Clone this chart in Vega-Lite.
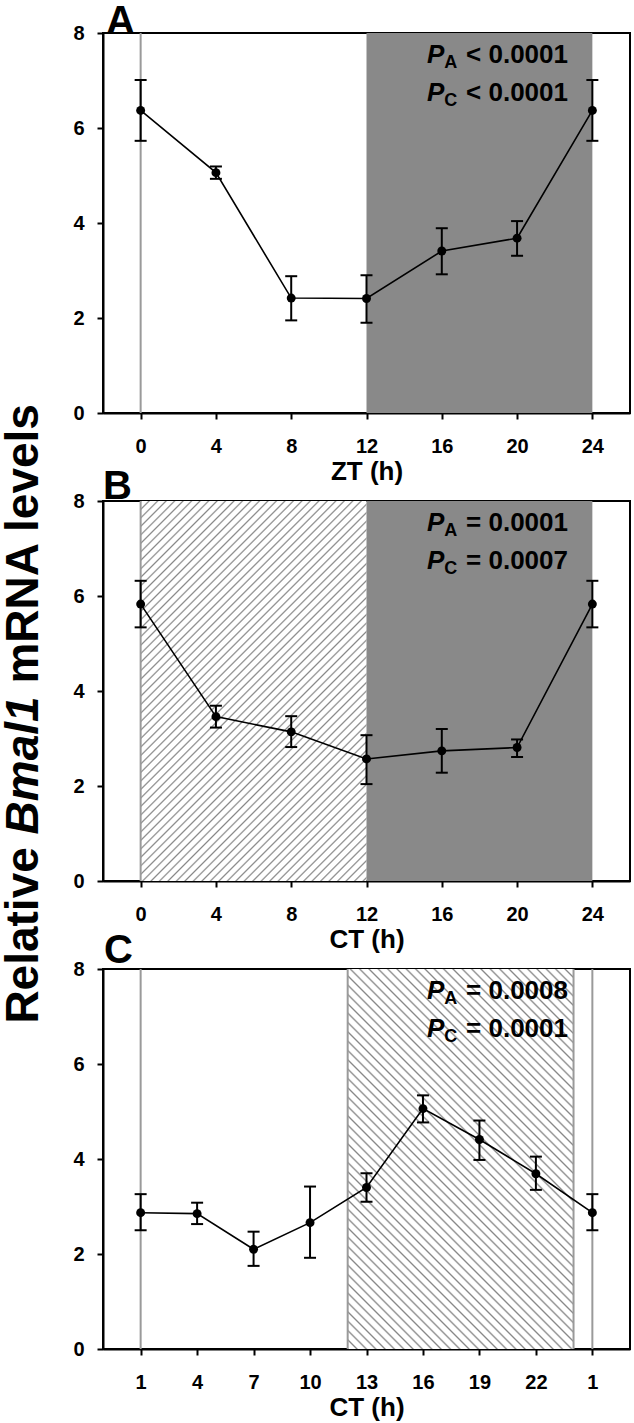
{
  "$schema": "https://vega.github.io/schema/vega-lite/v6.json",
  "background": "white",
  "padding": {"left": 0, "top": 0, "right": 2, "bottom": 2},
  "spacing": 88,
  "bounds": "flush",
  "resolve": {"scale": {"x": "independent", "y": "independent"}},
  "datasets": {
    "A": [
      {"t": 0, "y": 6.37, "lo": 5.73, "hi": 7.01},
      {"t": 4, "y": 5.06, "lo": 4.93, "hi": 5.19},
      {"t": 8, "y": 2.42, "lo": 1.95, "hi": 2.88},
      {"t": 12, "y": 2.41, "lo": 1.90, "hi": 2.90},
      {"t": 16, "y": 3.41, "lo": 2.92, "hi": 3.89},
      {"t": 20, "y": 3.68, "lo": 3.31, "hi": 4.04},
      {"t": 24, "y": 6.37, "lo": 5.73, "hi": 7.01}
    ],
    "B": [
      {"t": 0, "y": 5.83, "lo": 5.34, "hi": 6.32},
      {"t": 4, "y": 3.46, "lo": 3.23, "hi": 3.69},
      {"t": 8, "y": 3.14, "lo": 2.82, "hi": 3.47},
      {"t": 12, "y": 2.57, "lo": 2.04, "hi": 3.07},
      {"t": 16, "y": 2.74, "lo": 2.28, "hi": 3.20},
      {"t": 20, "y": 2.81, "lo": 2.61, "hi": 2.98},
      {"t": 24, "y": 5.83, "lo": 5.34, "hi": 6.32}
    ],
    "C": [
      {"t": 1, "y": 2.87, "lo": 2.50, "hi": 3.26},
      {"t": 4, "y": 2.85, "lo": 2.63, "hi": 3.08},
      {"t": 7, "y": 2.10, "lo": 1.75, "hi": 2.47},
      {"t": 10, "y": 2.66, "lo": 1.92, "hi": 3.42},
      {"t": 13, "y": 3.40, "lo": 3.10, "hi": 3.70},
      {"t": 16, "y": 5.06, "lo": 4.77, "hi": 5.34},
      {"t": 19, "y": 4.41, "lo": 3.98, "hi": 4.81},
      {"t": 22, "y": 3.69, "lo": 3.35, "hi": 4.05},
      {"t": 25, "y": 2.87, "lo": 2.50, "hi": 3.26}
    ]
  },
  "vconcat": [
    {
      "width": 527,
      "height": 380,
      "encoding": {"x": {"field": "t", "type": "quantitative", "scale": {"domain": [-2, 26], "nice": false, "zero": false}, "axis": {"values": [0, 4, 8, 12, 16, 20, 24], "title": "ZT (h)"}}},
      "layer": [
        {"data": {"values": [{"t": 12, "t2": 24}]}, "mark": {"type": "rect", "fill": "#898989"}, "encoding": {"x2": {"field": "t2"}}},
        {"data": {"values": [{"t": 0}]}, "mark": {"type": "rule", "stroke": "#9a9a9a", "strokeWidth": 2}, "encoding": {}},
        {"data": {"name": "A"}, "mark": {"type": "rule", "stroke": "black", "strokeWidth": 2}, "encoding": {"y": {"field": "lo", "type": "quantitative", "scale": {"domain": [0, 8], "nice": false}, "axis": {"values": [0, 2, 4, 6, 8]}, "title": null}, "y2": {"field": "hi"}}},
        {"data": {"name": "A"}, "mark": {"type": "line", "stroke": "black", "strokeWidth": 1.6}, "encoding": {"y": {"field": "y", "type": "quantitative", "scale": {"domain": [0, 8], "nice": false}, "axis": {"values": [0, 2, 4, 6, 8]}, "title": null}}},
        {"data": {"name": "A"}, "mark": {"type": "tick", "orient": "horizontal", "size": 12, "thickness": 2, "color": "black", "opacity": 1}, "encoding": {"y": {"field": "hi", "type": "quantitative", "scale": {"domain": [0, 8], "nice": false}, "axis": {"values": [0, 2, 4, 6, 8]}, "title": null}}},
        {"data": {"name": "A"}, "mark": {"type": "tick", "orient": "horizontal", "size": 12, "thickness": 2, "color": "black", "opacity": 1}, "encoding": {"y": {"field": "lo", "type": "quantitative", "scale": {"domain": [0, 8], "nice": false}, "axis": {"values": [0, 2, 4, 6, 8]}, "title": null}}},
        {"data": {"name": "A"}, "mark": {"type": "point", "shape": "circle", "filled": true, "size": 80, "color": "black", "opacity": 1}, "encoding": {"y": {"field": "y", "type": "quantitative", "scale": {"domain": [0, 8], "nice": false}, "axis": {"values": [0, 2, 4, 6, 8]}, "title": null}}},
        {"data": {"values": [{"t": -1.84, "y": 7.98, "label": "A"}]}, "mark": {"type": "text", "font": "Liberation Sans", "fontSize": 40, "fontWeight": "bold", "align": "left", "baseline": "alphabetic", "color": "black"}, "encoding": {"text": {"field": "label"}, "y": {"field": "y", "type": "quantitative", "scale": {"domain": [0, 8], "nice": false}, "axis": {"values": [0, 2, 4, 6, 8]}, "title": null}}},
        {"data": {"values": [{"t": 15.22, "y": 7.362, "label": "P"}, {"t": 15.22, "y": 6.568, "label": "P"}]}, "mark": {"type": "text", "font": "Liberation Sans", "fontSize": 26, "fontWeight": "bold", "fontStyle": "italic", "align": "left", "baseline": "alphabetic", "color": "black"}, "encoding": {"text": {"field": "label"}, "y": {"field": "y", "type": "quantitative", "scale": {"domain": [0, 8], "nice": false}, "axis": {"values": [0, 2, 4, 6, 8]}, "title": null}}},
        {"data": {"values": [{"t": 16.13, "y": 7.257, "label": "A"}, {"t": 16.13, "y": 6.463, "label": "C"}]}, "mark": {"type": "text", "font": "Liberation Sans", "fontSize": 18, "fontWeight": "bold", "align": "left", "baseline": "alphabetic", "color": "black"}, "encoding": {"text": {"field": "label"}, "y": {"field": "y", "type": "quantitative", "scale": {"domain": [0, 8], "nice": false}, "axis": {"values": [0, 2, 4, 6, 8]}, "title": null}}},
        {"data": {"values": [{"t": 17.29, "y": 7.362, "label": "< 0.0001"}, {"t": 17.29, "y": 6.568, "label": "< 0.0001"}]}, "mark": {"type": "text", "font": "Liberation Sans", "fontSize": 26, "fontWeight": "bold", "align": "left", "baseline": "alphabetic", "color": "black"}, "encoding": {"text": {"field": "label"}, "y": {"field": "y", "type": "quantitative", "scale": {"domain": [0, 8], "nice": false}, "axis": {"values": [0, 2, 4, 6, 8]}, "title": null}}}
      ]
    },
    {
      "width": 527,
      "height": 380,
      "encoding": {"x": {"field": "t", "type": "quantitative", "scale": {"domain": [-2, 26], "nice": false, "zero": false}, "axis": {"values": [0, 4, 8, 12, 16, 20, 24], "title": "CT (h)"}}},
      "layer": [
        {"data": {"values": [{"t": 0, "t2": 12}]}, "mark": {"type": "rect", "fill": {"gradient": "linear", "x1": 0, "y1": 0, "x2": 0.785, "y2": 1.32, "stops": [
{"offset":0,"color":"#888"},{"offset":0.0025,"color":"#fff"},{"offset":0.01,"color":"#fff"},
{"offset":0.0125,"color":"#888"},{"offset":0.015,"color":"#fff"},{"offset":0.0225,"color":"#fff"},
{"offset":0.025,"color":"#888"},{"offset":0.0275,"color":"#fff"},{"offset":0.035,"color":"#fff"},
{"offset":0.0375,"color":"#888"},{"offset":0.04,"color":"#fff"},{"offset":0.0475,"color":"#fff"},
{"offset":0.05,"color":"#888"},{"offset":0.0525,"color":"#fff"},{"offset":0.06,"color":"#fff"},
{"offset":0.0625,"color":"#888"},{"offset":0.065,"color":"#fff"},{"offset":0.0725,"color":"#fff"},
{"offset":0.075,"color":"#888"},{"offset":0.0775,"color":"#fff"},{"offset":0.085,"color":"#fff"},
{"offset":0.0875,"color":"#888"},{"offset":0.09,"color":"#fff"},{"offset":0.0975,"color":"#fff"},
{"offset":0.1,"color":"#888"},{"offset":0.1025,"color":"#fff"},{"offset":0.11,"color":"#fff"},
{"offset":0.1125,"color":"#888"},{"offset":0.115,"color":"#fff"},{"offset":0.1225,"color":"#fff"},
{"offset":0.125,"color":"#888"},{"offset":0.1275,"color":"#fff"},{"offset":0.135,"color":"#fff"},
{"offset":0.1375,"color":"#888"},{"offset":0.14,"color":"#fff"},{"offset":0.1475,"color":"#fff"},
{"offset":0.15,"color":"#888"},{"offset":0.1525,"color":"#fff"},{"offset":0.16,"color":"#fff"},
{"offset":0.1625,"color":"#888"},{"offset":0.165,"color":"#fff"},{"offset":0.1725,"color":"#fff"},
{"offset":0.175,"color":"#888"},{"offset":0.1775,"color":"#fff"},{"offset":0.185,"color":"#fff"},
{"offset":0.1875,"color":"#888"},{"offset":0.19,"color":"#fff"},{"offset":0.1975,"color":"#fff"},
{"offset":0.2,"color":"#888"},{"offset":0.2025,"color":"#fff"},{"offset":0.21,"color":"#fff"},
{"offset":0.2125,"color":"#888"},{"offset":0.215,"color":"#fff"},{"offset":0.2225,"color":"#fff"},
{"offset":0.225,"color":"#888"},{"offset":0.2275,"color":"#fff"},{"offset":0.235,"color":"#fff"},
{"offset":0.2375,"color":"#888"},{"offset":0.24,"color":"#fff"},{"offset":0.2475,"color":"#fff"},
{"offset":0.25,"color":"#888"},{"offset":0.2525,"color":"#fff"},{"offset":0.26,"color":"#fff"},
{"offset":0.2625,"color":"#888"},{"offset":0.265,"color":"#fff"},{"offset":0.2725,"color":"#fff"},
{"offset":0.275,"color":"#888"},{"offset":0.2775,"color":"#fff"},{"offset":0.285,"color":"#fff"},
{"offset":0.2875,"color":"#888"},{"offset":0.29,"color":"#fff"},{"offset":0.2975,"color":"#fff"},
{"offset":0.3,"color":"#888"},{"offset":0.3025,"color":"#fff"},{"offset":0.31,"color":"#fff"},
{"offset":0.3125,"color":"#888"},{"offset":0.315,"color":"#fff"},{"offset":0.3225,"color":"#fff"},
{"offset":0.325,"color":"#888"},{"offset":0.3275,"color":"#fff"},{"offset":0.335,"color":"#fff"},
{"offset":0.3375,"color":"#888"},{"offset":0.34,"color":"#fff"},{"offset":0.3475,"color":"#fff"},
{"offset":0.35,"color":"#888"},{"offset":0.3525,"color":"#fff"},{"offset":0.36,"color":"#fff"},
{"offset":0.3625,"color":"#888"},{"offset":0.365,"color":"#fff"},{"offset":0.3725,"color":"#fff"},
{"offset":0.375,"color":"#888"},{"offset":0.3775,"color":"#fff"},{"offset":0.385,"color":"#fff"},
{"offset":0.3875,"color":"#888"},{"offset":0.39,"color":"#fff"},{"offset":0.3975,"color":"#fff"},
{"offset":0.4,"color":"#888"},{"offset":0.4025,"color":"#fff"},{"offset":0.41,"color":"#fff"},
{"offset":0.4125,"color":"#888"},{"offset":0.415,"color":"#fff"},{"offset":0.4225,"color":"#fff"},
{"offset":0.425,"color":"#888"},{"offset":0.4275,"color":"#fff"},{"offset":0.435,"color":"#fff"},
{"offset":0.4375,"color":"#888"},{"offset":0.44,"color":"#fff"},{"offset":0.4475,"color":"#fff"},
{"offset":0.45,"color":"#888"},{"offset":0.4525,"color":"#fff"},{"offset":0.46,"color":"#fff"},
{"offset":0.4625,"color":"#888"},{"offset":0.465,"color":"#fff"},{"offset":0.4725,"color":"#fff"},
{"offset":0.475,"color":"#888"},{"offset":0.4775,"color":"#fff"},{"offset":0.485,"color":"#fff"},
{"offset":0.4875,"color":"#888"},{"offset":0.49,"color":"#fff"},{"offset":0.4975,"color":"#fff"},
{"offset":0.5,"color":"#888"},{"offset":0.5025,"color":"#fff"},{"offset":0.51,"color":"#fff"},
{"offset":0.5125,"color":"#888"},{"offset":0.515,"color":"#fff"},{"offset":0.5225,"color":"#fff"},
{"offset":0.525,"color":"#888"},{"offset":0.5275,"color":"#fff"},{"offset":0.535,"color":"#fff"},
{"offset":0.5375,"color":"#888"},{"offset":0.54,"color":"#fff"},{"offset":0.5475,"color":"#fff"},
{"offset":0.55,"color":"#888"},{"offset":0.5525,"color":"#fff"},{"offset":0.56,"color":"#fff"},
{"offset":0.5625,"color":"#888"},{"offset":0.565,"color":"#fff"},{"offset":0.5725,"color":"#fff"},
{"offset":0.575,"color":"#888"},{"offset":0.5775,"color":"#fff"},{"offset":0.585,"color":"#fff"},
{"offset":0.5875,"color":"#888"},{"offset":0.59,"color":"#fff"},{"offset":0.5975,"color":"#fff"},
{"offset":0.6,"color":"#888"},{"offset":0.6025,"color":"#fff"},{"offset":0.61,"color":"#fff"},
{"offset":0.6125,"color":"#888"},{"offset":0.615,"color":"#fff"},{"offset":0.6225,"color":"#fff"},
{"offset":0.625,"color":"#888"},{"offset":0.6275,"color":"#fff"},{"offset":0.635,"color":"#fff"},
{"offset":0.6375,"color":"#888"},{"offset":0.64,"color":"#fff"},{"offset":0.6475,"color":"#fff"},
{"offset":0.65,"color":"#888"},{"offset":0.6525,"color":"#fff"},{"offset":0.66,"color":"#fff"},
{"offset":0.6625,"color":"#888"},{"offset":0.665,"color":"#fff"},{"offset":0.6725,"color":"#fff"},
{"offset":0.675,"color":"#888"},{"offset":0.6775,"color":"#fff"},{"offset":0.685,"color":"#fff"},
{"offset":0.6875,"color":"#888"},{"offset":0.69,"color":"#fff"},{"offset":0.6975,"color":"#fff"},
{"offset":0.7,"color":"#888"},{"offset":0.7025,"color":"#fff"},{"offset":0.71,"color":"#fff"},
{"offset":0.7125,"color":"#888"},{"offset":0.715,"color":"#fff"},{"offset":0.7225,"color":"#fff"},
{"offset":0.725,"color":"#888"},{"offset":0.7275,"color":"#fff"},{"offset":0.735,"color":"#fff"},
{"offset":0.7375,"color":"#888"},{"offset":0.74,"color":"#fff"},{"offset":0.7475,"color":"#fff"},
{"offset":0.75,"color":"#888"},{"offset":0.7525,"color":"#fff"},{"offset":0.76,"color":"#fff"},
{"offset":0.7625,"color":"#888"},{"offset":0.765,"color":"#fff"},{"offset":0.7725,"color":"#fff"},
{"offset":0.775,"color":"#888"},{"offset":0.7775,"color":"#fff"},{"offset":0.785,"color":"#fff"},
{"offset":0.7875,"color":"#888"},{"offset":0.79,"color":"#fff"},{"offset":0.7975,"color":"#fff"},
{"offset":0.8,"color":"#888"},{"offset":0.8025,"color":"#fff"},{"offset":0.81,"color":"#fff"},
{"offset":0.8125,"color":"#888"},{"offset":0.815,"color":"#fff"},{"offset":0.8225,"color":"#fff"},
{"offset":0.825,"color":"#888"},{"offset":0.8275,"color":"#fff"},{"offset":0.835,"color":"#fff"},
{"offset":0.8375,"color":"#888"},{"offset":0.84,"color":"#fff"},{"offset":0.8475,"color":"#fff"},
{"offset":0.85,"color":"#888"},{"offset":0.8525,"color":"#fff"},{"offset":0.86,"color":"#fff"},
{"offset":0.8625,"color":"#888"},{"offset":0.865,"color":"#fff"},{"offset":0.8725,"color":"#fff"},
{"offset":0.875,"color":"#888"},{"offset":0.8775,"color":"#fff"},{"offset":0.885,"color":"#fff"},
{"offset":0.8875,"color":"#888"},{"offset":0.89,"color":"#fff"},{"offset":0.8975,"color":"#fff"},
{"offset":0.9,"color":"#888"},{"offset":0.9025,"color":"#fff"}
        ]}}, "encoding": {"x2": {"field": "t2"}}},
        {"data": {"values": [{"t": 12, "t2": 24}]}, "mark": {"type": "rect", "fill": "#898989"}, "encoding": {"x2": {"field": "t2"}}},
        {"data": {"values": [{"t": 0}]}, "mark": {"type": "rule", "stroke": "#9a9a9a", "strokeWidth": 2}, "encoding": {}},
        {"data": {"name": "B"}, "mark": {"type": "rule", "stroke": "black", "strokeWidth": 2}, "encoding": {"y": {"field": "lo", "type": "quantitative", "scale": {"domain": [0, 8], "nice": false}, "axis": {"values": [0, 2, 4, 6, 8]}, "title": null}, "y2": {"field": "hi"}}},
        {"data": {"name": "B"}, "mark": {"type": "line", "stroke": "black", "strokeWidth": 1.6}, "encoding": {"y": {"field": "y", "type": "quantitative", "scale": {"domain": [0, 8], "nice": false}, "axis": {"values": [0, 2, 4, 6, 8]}, "title": null}}},
        {"data": {"name": "B"}, "mark": {"type": "tick", "orient": "horizontal", "size": 12, "thickness": 2, "color": "black", "opacity": 1}, "encoding": {"y": {"field": "hi", "type": "quantitative", "scale": {"domain": [0, 8], "nice": false}, "axis": {"values": [0, 2, 4, 6, 8]}, "title": null}}},
        {"data": {"name": "B"}, "mark": {"type": "tick", "orient": "horizontal", "size": 12, "thickness": 2, "color": "black", "opacity": 1}, "encoding": {"y": {"field": "lo", "type": "quantitative", "scale": {"domain": [0, 8], "nice": false}, "axis": {"values": [0, 2, 4, 6, 8]}, "title": null}}},
        {"data": {"name": "B"}, "mark": {"type": "point", "shape": "circle", "filled": true, "size": 80, "color": "black", "opacity": 1}, "encoding": {"y": {"field": "y", "type": "quantitative", "scale": {"domain": [0, 8], "nice": false}, "axis": {"values": [0, 2, 4, 6, 8]}, "title": null}}},
        {"data": {"values": [{"t": -2.0, "y": 8.05, "label": "B"}]}, "mark": {"type": "text", "font": "Liberation Sans", "fontSize": 40, "fontWeight": "bold", "align": "left", "baseline": "alphabetic", "color": "black"}, "encoding": {"text": {"field": "label"}, "y": {"field": "y", "type": "quantitative", "scale": {"domain": [0, 8], "nice": false}, "axis": {"values": [0, 2, 4, 6, 8]}, "title": null}}},
        {"data": {"values": [{"t": 15.22, "y": 7.362, "label": "P"}, {"t": 15.22, "y": 6.568, "label": "P"}]}, "mark": {"type": "text", "font": "Liberation Sans", "fontSize": 26, "fontWeight": "bold", "fontStyle": "italic", "align": "left", "baseline": "alphabetic", "color": "black"}, "encoding": {"text": {"field": "label"}, "y": {"field": "y", "type": "quantitative", "scale": {"domain": [0, 8], "nice": false}, "axis": {"values": [0, 2, 4, 6, 8]}, "title": null}}},
        {"data": {"values": [{"t": 16.13, "y": 7.257, "label": "A"}, {"t": 16.13, "y": 6.463, "label": "C"}]}, "mark": {"type": "text", "font": "Liberation Sans", "fontSize": 18, "fontWeight": "bold", "align": "left", "baseline": "alphabetic", "color": "black"}, "encoding": {"text": {"field": "label"}, "y": {"field": "y", "type": "quantitative", "scale": {"domain": [0, 8], "nice": false}, "axis": {"values": [0, 2, 4, 6, 8]}, "title": null}}},
        {"data": {"values": [{"t": 17.29, "y": 7.362, "label": "= 0.0001"}, {"t": 17.29, "y": 6.568, "label": "= 0.0007"}]}, "mark": {"type": "text", "font": "Liberation Sans", "fontSize": 26, "fontWeight": "bold", "align": "left", "baseline": "alphabetic", "color": "black"}, "encoding": {"text": {"field": "label"}, "y": {"field": "y", "type": "quantitative", "scale": {"domain": [0, 8], "nice": false}, "axis": {"values": [0, 2, 4, 6, 8]}, "title": null}}},
        {"data": {"values": [{"t": -5.45, "y": 0.712, "label": "Relative"}]}, "mark": {"type": "text", "font": "Liberation Sans", "fontSize": 46, "fontWeight": "bold", "angle": 270, "align": "right", "baseline": "alphabetic", "color": "black"}, "encoding": {"text": {"field": "label"}, "y": {"field": "y", "type": "quantitative", "scale": {"domain": [0, 8], "nice": false}, "axis": {"values": [0, 2, 4, 6, 8]}, "title": null}}},
        {"data": {"values": [{"t": -5.45, "y": 4.156, "label": "mRNA levels"}]}, "mark": {"type": "text", "font": "Liberation Sans", "fontSize": 46, "fontWeight": "bold", "angle": 270, "align": "left", "baseline": "alphabetic", "color": "black"}, "encoding": {"text": {"field": "label"}, "y": {"field": "y", "type": "quantitative", "scale": {"domain": [0, 8], "nice": false}, "axis": {"values": [0, 2, 4, 6, 8]}, "title": null}}},
        {"data": {"values": [{"t": -5.45, "y": 2.434, "label": "Bmal1"}]}, "mark": {"type": "text", "font": "Liberation Sans", "fontSize": 46, "fontWeight": "bold", "fontStyle": "italic", "angle": 270, "align": "center", "baseline": "alphabetic", "color": "black"}, "encoding": {"text": {"field": "label"}, "y": {"field": "y", "type": "quantitative", "scale": {"domain": [0, 8], "nice": false}, "axis": {"values": [0, 2, 4, 6, 8]}, "title": null}}}
      ]
    },
    {
      "width": 527,
      "height": 380,
      "encoding": {"x": {"field": "t", "type": "quantitative", "scale": {"domain": [-1, 27], "nice": false, "zero": false}, "axis": {"values": [1, 4, 7, 10, 13, 16, 19, 22, 25], "labelExpr": "datum.value == 25 ? '1' : datum.label", "title": "CT (h)"}}},
      "layer": [
        {"data": {"values": [{"t": 12, "t2": 24}]}, "mark": {"type": "rect", "fill": {"gradient": "linear", "x1": 0, "y1": 1, "x2": 0.863, "y2": -0.452, "stops": [
{"offset":0,"color":"#888"},{"offset":0.0025,"color":"#fff"},{"offset":0.01,"color":"#fff"},
{"offset":0.0125,"color":"#888"},{"offset":0.015,"color":"#fff"},{"offset":0.0225,"color":"#fff"},
{"offset":0.025,"color":"#888"},{"offset":0.0275,"color":"#fff"},{"offset":0.035,"color":"#fff"},
{"offset":0.0375,"color":"#888"},{"offset":0.04,"color":"#fff"},{"offset":0.0475,"color":"#fff"},
{"offset":0.05,"color":"#888"},{"offset":0.0525,"color":"#fff"},{"offset":0.06,"color":"#fff"},
{"offset":0.0625,"color":"#888"},{"offset":0.065,"color":"#fff"},{"offset":0.0725,"color":"#fff"},
{"offset":0.075,"color":"#888"},{"offset":0.0775,"color":"#fff"},{"offset":0.085,"color":"#fff"},
{"offset":0.0875,"color":"#888"},{"offset":0.09,"color":"#fff"},{"offset":0.0975,"color":"#fff"},
{"offset":0.1,"color":"#888"},{"offset":0.1025,"color":"#fff"},{"offset":0.11,"color":"#fff"},
{"offset":0.1125,"color":"#888"},{"offset":0.115,"color":"#fff"},{"offset":0.1225,"color":"#fff"},
{"offset":0.125,"color":"#888"},{"offset":0.1275,"color":"#fff"},{"offset":0.135,"color":"#fff"},
{"offset":0.1375,"color":"#888"},{"offset":0.14,"color":"#fff"},{"offset":0.1475,"color":"#fff"},
{"offset":0.15,"color":"#888"},{"offset":0.1525,"color":"#fff"},{"offset":0.16,"color":"#fff"},
{"offset":0.1625,"color":"#888"},{"offset":0.165,"color":"#fff"},{"offset":0.1725,"color":"#fff"},
{"offset":0.175,"color":"#888"},{"offset":0.1775,"color":"#fff"},{"offset":0.185,"color":"#fff"},
{"offset":0.1875,"color":"#888"},{"offset":0.19,"color":"#fff"},{"offset":0.1975,"color":"#fff"},
{"offset":0.2,"color":"#888"},{"offset":0.2025,"color":"#fff"},{"offset":0.21,"color":"#fff"},
{"offset":0.2125,"color":"#888"},{"offset":0.215,"color":"#fff"},{"offset":0.2225,"color":"#fff"},
{"offset":0.225,"color":"#888"},{"offset":0.2275,"color":"#fff"},{"offset":0.235,"color":"#fff"},
{"offset":0.2375,"color":"#888"},{"offset":0.24,"color":"#fff"},{"offset":0.2475,"color":"#fff"},
{"offset":0.25,"color":"#888"},{"offset":0.2525,"color":"#fff"},{"offset":0.26,"color":"#fff"},
{"offset":0.2625,"color":"#888"},{"offset":0.265,"color":"#fff"},{"offset":0.2725,"color":"#fff"},
{"offset":0.275,"color":"#888"},{"offset":0.2775,"color":"#fff"},{"offset":0.285,"color":"#fff"},
{"offset":0.2875,"color":"#888"},{"offset":0.29,"color":"#fff"},{"offset":0.2975,"color":"#fff"},
{"offset":0.3,"color":"#888"},{"offset":0.3025,"color":"#fff"},{"offset":0.31,"color":"#fff"},
{"offset":0.3125,"color":"#888"},{"offset":0.315,"color":"#fff"},{"offset":0.3225,"color":"#fff"},
{"offset":0.325,"color":"#888"},{"offset":0.3275,"color":"#fff"},{"offset":0.335,"color":"#fff"},
{"offset":0.3375,"color":"#888"},{"offset":0.34,"color":"#fff"},{"offset":0.3475,"color":"#fff"},
{"offset":0.35,"color":"#888"},{"offset":0.3525,"color":"#fff"},{"offset":0.36,"color":"#fff"},
{"offset":0.3625,"color":"#888"},{"offset":0.365,"color":"#fff"},{"offset":0.3725,"color":"#fff"},
{"offset":0.375,"color":"#888"},{"offset":0.3775,"color":"#fff"},{"offset":0.385,"color":"#fff"},
{"offset":0.3875,"color":"#888"},{"offset":0.39,"color":"#fff"},{"offset":0.3975,"color":"#fff"},
{"offset":0.4,"color":"#888"},{"offset":0.4025,"color":"#fff"},{"offset":0.41,"color":"#fff"},
{"offset":0.4125,"color":"#888"},{"offset":0.415,"color":"#fff"},{"offset":0.4225,"color":"#fff"},
{"offset":0.425,"color":"#888"},{"offset":0.4275,"color":"#fff"},{"offset":0.435,"color":"#fff"},
{"offset":0.4375,"color":"#888"},{"offset":0.44,"color":"#fff"},{"offset":0.4475,"color":"#fff"},
{"offset":0.45,"color":"#888"},{"offset":0.4525,"color":"#fff"},{"offset":0.46,"color":"#fff"},
{"offset":0.4625,"color":"#888"},{"offset":0.465,"color":"#fff"},{"offset":0.4725,"color":"#fff"},
{"offset":0.475,"color":"#888"},{"offset":0.4775,"color":"#fff"},{"offset":0.485,"color":"#fff"},
{"offset":0.4875,"color":"#888"},{"offset":0.49,"color":"#fff"},{"offset":0.4975,"color":"#fff"},
{"offset":0.5,"color":"#888"},{"offset":0.5025,"color":"#fff"},{"offset":0.51,"color":"#fff"},
{"offset":0.5125,"color":"#888"},{"offset":0.515,"color":"#fff"},{"offset":0.5225,"color":"#fff"},
{"offset":0.525,"color":"#888"},{"offset":0.5275,"color":"#fff"},{"offset":0.535,"color":"#fff"},
{"offset":0.5375,"color":"#888"},{"offset":0.54,"color":"#fff"},{"offset":0.5475,"color":"#fff"},
{"offset":0.55,"color":"#888"},{"offset":0.5525,"color":"#fff"},{"offset":0.56,"color":"#fff"},
{"offset":0.5625,"color":"#888"},{"offset":0.565,"color":"#fff"},{"offset":0.5725,"color":"#fff"},
{"offset":0.575,"color":"#888"},{"offset":0.5775,"color":"#fff"},{"offset":0.585,"color":"#fff"},
{"offset":0.5875,"color":"#888"},{"offset":0.59,"color":"#fff"},{"offset":0.5975,"color":"#fff"},
{"offset":0.6,"color":"#888"},{"offset":0.6025,"color":"#fff"},{"offset":0.61,"color":"#fff"},
{"offset":0.6125,"color":"#888"},{"offset":0.615,"color":"#fff"},{"offset":0.6225,"color":"#fff"},
{"offset":0.625,"color":"#888"},{"offset":0.6275,"color":"#fff"},{"offset":0.635,"color":"#fff"},
{"offset":0.6375,"color":"#888"},{"offset":0.64,"color":"#fff"},{"offset":0.6475,"color":"#fff"},
{"offset":0.65,"color":"#888"},{"offset":0.6525,"color":"#fff"},{"offset":0.66,"color":"#fff"},
{"offset":0.6625,"color":"#888"},{"offset":0.665,"color":"#fff"},{"offset":0.6725,"color":"#fff"},
{"offset":0.675,"color":"#888"},{"offset":0.6775,"color":"#fff"},{"offset":0.685,"color":"#fff"},
{"offset":0.6875,"color":"#888"},{"offset":0.69,"color":"#fff"},{"offset":0.6975,"color":"#fff"},
{"offset":0.7,"color":"#888"},{"offset":0.7025,"color":"#fff"},{"offset":0.71,"color":"#fff"},
{"offset":0.7125,"color":"#888"},{"offset":0.715,"color":"#fff"},{"offset":0.7225,"color":"#fff"},
{"offset":0.725,"color":"#888"},{"offset":0.7275,"color":"#fff"},{"offset":0.735,"color":"#fff"},
{"offset":0.7375,"color":"#888"},{"offset":0.74,"color":"#fff"},{"offset":0.7475,"color":"#fff"},
{"offset":0.75,"color":"#888"},{"offset":0.7525,"color":"#fff"},{"offset":0.76,"color":"#fff"},
{"offset":0.7625,"color":"#888"},{"offset":0.765,"color":"#fff"},{"offset":0.7725,"color":"#fff"},
{"offset":0.775,"color":"#888"},{"offset":0.7775,"color":"#fff"},{"offset":0.785,"color":"#fff"},
{"offset":0.7875,"color":"#888"},{"offset":0.79,"color":"#fff"},{"offset":0.7975,"color":"#fff"},
{"offset":0.8,"color":"#888"},{"offset":0.8025,"color":"#fff"},{"offset":0.81,"color":"#fff"},
{"offset":0.8125,"color":"#888"},{"offset":0.815,"color":"#fff"},{"offset":0.8225,"color":"#fff"},
{"offset":0.825,"color":"#888"},{"offset":0.8275,"color":"#fff"}
        ]}}, "encoding": {"x2": {"field": "t2"}}},
        {"data": {"values": [{"t": 1}, {"t": 12}, {"t": 24}, {"t": 25}]}, "mark": {"type": "rule", "stroke": "#9a9a9a", "strokeWidth": 2}, "encoding": {}},
        {"data": {"name": "C"}, "mark": {"type": "rule", "stroke": "black", "strokeWidth": 2}, "encoding": {"y": {"field": "lo", "type": "quantitative", "scale": {"domain": [0, 8], "nice": false}, "axis": {"values": [0, 2, 4, 6, 8]}, "title": null}, "y2": {"field": "hi"}}},
        {"data": {"name": "C"}, "mark": {"type": "line", "stroke": "black", "strokeWidth": 1.6}, "encoding": {"y": {"field": "y", "type": "quantitative", "scale": {"domain": [0, 8], "nice": false}, "axis": {"values": [0, 2, 4, 6, 8]}, "title": null}}},
        {"data": {"name": "C"}, "mark": {"type": "tick", "orient": "horizontal", "size": 12, "thickness": 2, "color": "black", "opacity": 1}, "encoding": {"y": {"field": "hi", "type": "quantitative", "scale": {"domain": [0, 8], "nice": false}, "axis": {"values": [0, 2, 4, 6, 8]}, "title": null}}},
        {"data": {"name": "C"}, "mark": {"type": "tick", "orient": "horizontal", "size": 12, "thickness": 2, "color": "black", "opacity": 1}, "encoding": {"y": {"field": "lo", "type": "quantitative", "scale": {"domain": [0, 8], "nice": false}, "axis": {"values": [0, 2, 4, 6, 8]}, "title": null}}},
        {"data": {"name": "C"}, "mark": {"type": "point", "shape": "circle", "filled": true, "size": 80, "color": "black", "opacity": 1}, "encoding": {"y": {"field": "y", "type": "quantitative", "scale": {"domain": [0, 8], "nice": false}, "axis": {"values": [0, 2, 4, 6, 8]}, "title": null}}},
        {"data": {"values": [{"t": -0.95, "y": 8.12, "label": "C"}]}, "mark": {"type": "text", "font": "Liberation Sans", "fontSize": 40, "fontWeight": "bold", "align": "left", "baseline": "alphabetic", "color": "black"}, "encoding": {"text": {"field": "label"}, "y": {"field": "y", "type": "quantitative", "scale": {"domain": [0, 8], "nice": false}, "axis": {"values": [0, 2, 4, 6, 8]}, "title": null}}},
        {"data": {"values": [{"t": 16.22, "y": 7.362, "label": "P"}, {"t": 16.22, "y": 6.568, "label": "P"}]}, "mark": {"type": "text", "font": "Liberation Sans", "fontSize": 26, "fontWeight": "bold", "fontStyle": "italic", "align": "left", "baseline": "alphabetic", "color": "black"}, "encoding": {"text": {"field": "label"}, "y": {"field": "y", "type": "quantitative", "scale": {"domain": [0, 8], "nice": false}, "axis": {"values": [0, 2, 4, 6, 8]}, "title": null}}},
        {"data": {"values": [{"t": 17.13, "y": 7.257, "label": "A"}, {"t": 17.13, "y": 6.463, "label": "C"}]}, "mark": {"type": "text", "font": "Liberation Sans", "fontSize": 18, "fontWeight": "bold", "align": "left", "baseline": "alphabetic", "color": "black"}, "encoding": {"text": {"field": "label"}, "y": {"field": "y", "type": "quantitative", "scale": {"domain": [0, 8], "nice": false}, "axis": {"values": [0, 2, 4, 6, 8]}, "title": null}}},
        {"data": {"values": [{"t": 18.29, "y": 7.362, "label": "= 0.0008"}, {"t": 18.29, "y": 6.568, "label": "= 0.0001"}]}, "mark": {"type": "text", "font": "Liberation Sans", "fontSize": 26, "fontWeight": "bold", "align": "left", "baseline": "alphabetic", "color": "black"}, "encoding": {"text": {"field": "label"}, "y": {"field": "y", "type": "quantitative", "scale": {"domain": [0, 8], "nice": false}, "axis": {"values": [0, 2, 4, 6, 8]}, "title": null}}}
      ]
    }
  ],
  "config": {
    "font": "Liberation Sans",
    "view": {"stroke": "black", "strokeWidth": 2},
    "axis": {
      "grid": false,
      "domainColor": "black",
      "domainWidth": 2,
      "tickColor": "black",
      "tickWidth": 2,
      "tickSize": 6,
      "labelFont": "Liberation Sans",
      "labelFontSize": 20,
      "labelFontWeight": "bold",
      "labelColor": "black",
      "labelFlush": false,
      "labelOverlap": false,
      "titleFont": "Liberation Sans",
      "titleFontSize": 26,
      "titleFontWeight": "bold",
      "titleColor": "black"
    },
    "axisX": {"labelPadding": 17, "titlePadding": 2},
    "axisY": {"labelPadding": 13}
  }
}
